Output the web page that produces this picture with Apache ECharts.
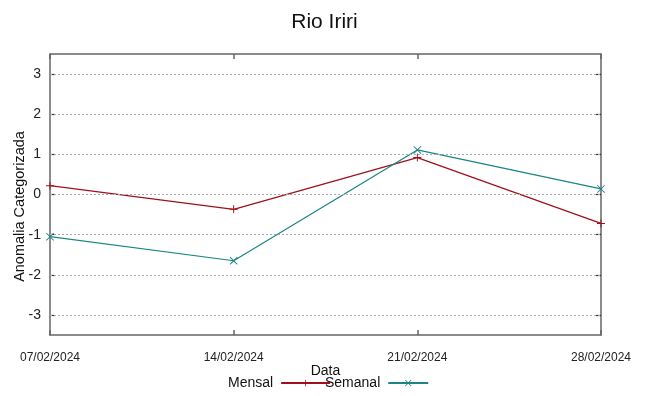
<!DOCTYPE html>
<html>
<head>
<meta charset="utf-8">
<script src="https://cdn.jsdelivr.net/npm/echarts@6/dist/echarts.min.js"></script>
<style>html,body{margin:0;padding:0;background:#fff;}#c{width:649px;height:396px;}</style>
</head>
<body>
<div id="c"></div>
<script>
var categories = ['07/02/2024', '14/02/2024', '21/02/2024', '28/02/2024'];
var mensal = [0.22, -0.37, 0.92, -0.72];
var semanal = [-1.05, -1.65, 1.11, 0.14];
var yTicks = [-3, -2, -1, 0, 1, 2, 3];

var plusPath = 'path://M4.4,0H5.6V4.4H10V5.6H5.6V10H4.4V5.6H0V4.4H4.4Z';
var crossPath = 'path://M0,0.8L0.8,0L5,4.2L9.2,0L10,0.8L5.8,5L10,9.2L9.2,10L5,5.8L0.8,10L0,9.2L4.2,5Z';
var font = 'Liberation Sans';
var axisCol = '#666';

var chart = echarts.init(document.getElementById('c'), null, {renderer: 'canvas'});
chart.setOption({
  animation: false,
  backgroundColor: '#fff',
  textStyle: {fontFamily: font},
  title: {
    text: 'Rio Iriri', left: 'center', top: 7,
    textStyle: {fontFamily: font, fontSize: 21, fontWeight: 'normal', color: '#111'}
  },
  legend: [{
    left: 228, top: 376, padding: 0, align: 'right', itemWidth: 49, itemHeight: 8,
    data: ['Mensal'],
    textStyle: {fontFamily: font, fontSize: 14, color: '#111', padding: [0, 3, 0, 0]}
  }, {
    left: 325, top: 376, padding: 0, align: 'right', itemWidth: 40, itemHeight: 8,
    data: ['Semanal'],
    textStyle: {fontFamily: font, fontSize: 14, color: '#111', padding: [0, 3, 0, 0]}
  }],
  grid: {left: 50, right: 48, top: 54, bottom: 61, containLabel: false, outerBoundsMode: 'none'},
  xAxis: [{
    type: 'category', data: categories, boundaryGap: false,
    name: 'Data', nameLocation: 'middle', nameGap: 29, nameMoveOverlap: false,
    nameTextStyle: {fontFamily: font, fontSize: 14, color: '#111'},
    axisLine: {show: true, onZero: false, lineStyle: {color: axisCol, width: 1.5}},
    axisTick: {show: true, inside: true, length: 5, alignWithLabel: true, lineStyle: {color: axisCol, width: 1.5}},
    axisLabel: {fontFamily: font, fontSize: 12, color: '#222', margin: 17},
    splitLine: {show: false}
  }, {
    type: 'category', data: categories, boundaryGap: false, position: 'top',
    axisLine: {show: true, onZero: false, lineStyle: {color: axisCol, width: 1.5}},
    axisTick: {show: true, inside: true, length: 5, lineStyle: {color: axisCol, width: 1.5}},
    axisLabel: {show: false}, splitLine: {show: false}
  }],
  yAxis: [{
    type: 'value', min: -3.5, max: 3.5,
    name: 'Anomalia Categorizada', nameLocation: 'middle', nameGap: 23, nameRotate: 90, nameMoveOverlap: false,
    nameTextStyle: {fontFamily: font, fontSize: 14.5, color: '#111', padding: [0, 24, 0, 0]},
    axisLine: {show: true, onZero: false, lineStyle: {color: axisCol, width: 1.5}},
    axisTick: {show: true, inside: true, length: 5, customValues: yTicks, lineStyle: {color: '#333', width: 1.2}},
    axisLabel: {fontFamily: font, fontSize: 14, color: '#222', margin: 9, customValues: yTicks},
    splitLine: {show: false}
  }, {
    type: 'value', min: -3.5, max: 3.5, position: 'right',
    axisLine: {show: true, onZero: false, lineStyle: {color: axisCol, width: 1.5}},
    axisTick: {show: true, inside: true, length: 5, customValues: yTicks, lineStyle: {color: '#333', width: 1.2}},
    axisLabel: {show: false}, splitLine: {show: false}
  }],
  series: [{
    name: 'Mensal', type: 'line', data: mensal,
    symbol: plusPath, symbolSize: 8, showAllSymbol: true,
    lineStyle: {color: '#a0101a', width: 1.2},
    itemStyle: {color: '#a0101a'},
    markLine: {
      silent: true, symbol: ['none', 'none'], label: {show: false},
      lineStyle: {color: '#aaa', type: [2, 2], width: 1},
      data: yTicks.map(function (v) { return {yAxis: v}; })
    },
    z: 3
  }, {
    name: 'Semanal', type: 'line', data: semanal,
    symbol: crossPath, symbolSize: 8, showAllSymbol: true,
    lineStyle: {color: '#1a8585', width: 1.2},
    itemStyle: {color: '#1a8585'},
    z: 4
  }]
});
</script>
</body>
</html>
